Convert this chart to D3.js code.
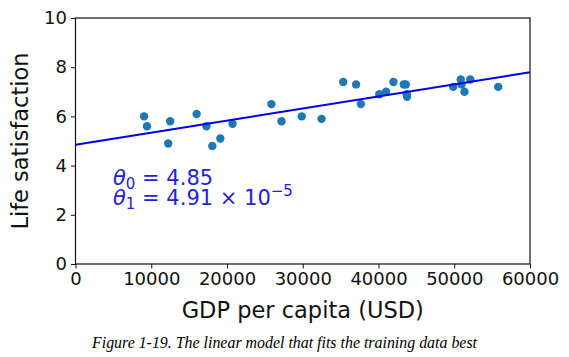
<!DOCTYPE html>
<html><head><meta charset="utf-8">
<script src="https://cdn.jsdelivr.net/npm/d3@7"></script>
<style>body{margin:0;background:#fff}svg{display:block}</style>
</head><body>
<svg id="c" width="569" height="357"></svg>
<script>
const gdp = [9054.914, 9437.372, 12239.894, 12495.334, 15991.736, 17288.083, 18064.288, 19121.592, 20732.482, 25864.721, 27195.197, 29866.581, 32485.545, 35343.336, 37044.891, 37675.006, 40106.632, 40996.511, 41973.988, 43331.961, 43603.115, 43724.031, 43770.688, 49866.266, 50854.583, 50961.865, 51350.744, 52114.165, 55805.204];
const lifeSat = [6.0, 5.6, 4.9, 5.8, 6.1, 5.6, 4.8, 5.1, 5.7, 6.5, 5.8, 6.0, 5.9, 7.4, 7.3, 6.5, 6.9, 7.0, 7.4, 7.3, 7.3, 6.9, 6.8, 7.2, 7.5, 7.3, 7.0, 7.5, 7.2];
const theta0 = 4.85;
const theta1 = 4.91e-5;
const xTicks = [0, 10000, 20000, 30000, 40000, 50000, 60000];
const yTicks = [0, 2, 4, 6, 8, 10];
const lineX = [0, 60000];

const svg = d3.select("#c");
const L = 75.5, R = 530, T = 18, B = 264;
const x = d3.scaleLinear().domain([0, 60000]).range([L, R]);
const y = d3.scaleLinear().domain([0, 10]).range([B, T]);
const font = "DejaVu Sans";

// points
svg.append("g").selectAll("circle").data(gdp).join("circle")
  .attr("cx", d => x(d)).attr("cy", (d, i) => y(lifeSat[i])).attr("r", 4.2)
  .attr("fill", "#1f77b4");

// regression line
svg.append("line")
  .attr("x1", x(lineX[0])).attr("y1", y(theta0 + theta1 * lineX[0]))
  .attr("x2", x(lineX[1])).attr("y2", y(theta0 + theta1 * lineX[1]))
  .attr("stroke", "#0000ee").attr("stroke-width", 2);

// axes
const xa = svg.append("g").attr("transform", `translate(0,${B})`)
  .call(d3.axisBottom(x).tickValues(xTicks).tickFormat(d3.format("d")).tickSizeOuter(0).tickSize(4.5).tickPadding(4));
const ya = svg.append("g").attr("transform", `translate(${L},0)`)
  .call(d3.axisLeft(y).tickValues(yTicks).tickFormat(d3.format("d")).tickSizeOuter(0).tickSize(4.5).tickPadding(4));
[xa, ya].forEach(a => {
  a.selectAll("text").attr("font-family", font).attr("font-size", 18).attr("fill", "#111");
  a.selectAll("line").attr("stroke", "#111").attr("stroke-width", 1);
  a.select(".domain").remove();
});
xa.selectAll("text").attr("dy", "0.71em");
// frame
svg.append("rect").attr("x", L).attr("y", T).attr("width", R - L).attr("height", B - T)
  .attr("fill", "none").attr("stroke", "#111").attr("stroke-width", 1.2);

// axis labels
svg.append("text").attr("x", (L + R) / 2).attr("y", 318).attr("text-anchor", "middle")
  .attr("font-family", font).attr("font-size", 22.5).attr("fill", "#111").text("GDP per capita (USD)");
svg.append("text").attr("transform", `translate(28,${(T + B) / 2}) rotate(-90)`).attr("text-anchor", "middle")
  .attr("font-family", font).attr("font-size", 22.5).attr("fill", "#111").text("Life satisfaction");

// annotations
function eq(yb, sub, rest) {
  const t = svg.append("text").attr("x", 113).attr("y", yb).attr("font-family", font)
    .attr("font-size", 21).attr("fill", "#2222dd");
  t.append("tspan").attr("font-style", "italic").text("θ");
  t.append("tspan").attr("font-size", 15).attr("dy", 4).text(sub);
  t.append("tspan").attr("dy", -4).text(" = " + rest);
  return t;
}
eq(185, "0", theta0.toFixed(2));
const t2 = eq(204.5, "1", "4.91 × 10");
t2.append("tspan").attr("font-size", 15).attr("dy", -9).text("−5");

// caption
svg.append("text").attr("x", 92).attr("y", 347.5).attr("font-family", "Liberation Serif")
  .attr("font-style", "italic").attr("font-size", 16).attr("fill", "#000")
  .attr("textLength", 385).attr("lengthAdjust", "spacingAndGlyphs")
  .text("Figure 1-19. The linear model that fits the training data best");
</script>
</body></html>
